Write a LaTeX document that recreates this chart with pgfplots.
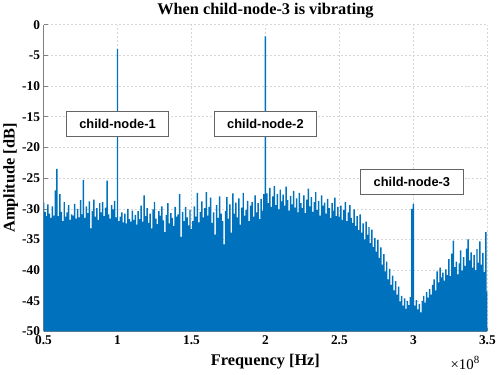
\documentclass[border=0pt]{standalone}
\usepackage{fontspec}
\setmainfont{Liberation Serif}
\setsansfont{Liberation Sans}
\usepackage{pgfplots}
\pgfplotsset{compat=1.18}
\definecolor{mblue}{RGB}{0,114,189}
\definecolor{gridc}{RGB}{215,215,215}
\definecolor{axc}{RGB}{128,128,128}
\definecolor{boxc}{RGB}{100,100,100}
\begin{document}
\begin{tikzpicture}
\path (0,0) rectangle (499bp,368bp);
\begin{axis}[
  at={(43bp,43bp)}, anchor=south west,
  scale only axis, width=447bp, height=309bp,
  xmin=0.5, xmax=3.5, ymin=-50, ymax=0,
  xtick={0.5,1,1.5,2,2.5,3,3.5},
  xticklabels={\textbf{0.5},\textbf{1},\textbf{1.5},\textbf{2},\textbf{2.5},\textbf{3},\textbf{3.5}},
  ytick={-50,-45,-40,-35,-30,-25,-20,-15,-10,-5,0},
  yticklabels={\textbf{-50},\textbf{-45},\textbf{-40},\textbf{-35},\textbf{-30},\textbf{-25},\textbf{-20},\textbf{-15},\textbf{-10},\textbf{-5},\textbf{0}},
  axis lines*=left,
  axis line style={axc, line width=0.6bp},
  tick style={axc, line width=0.5bp},
  major tick length=4bp, tick align=inside,
  grid=major, grid style={gridc, dash pattern=on 2bp off 2bp, line width=0.5bp},
  xticklabel style={font=\fontsize{13.5}{15}\selectfont\bfseries, yshift=-1bp},
  yticklabel style={font=\fontsize{13.5}{15}\selectfont\bfseries},
  label style={font=\fontsize{16.5}{18}\selectfont\bfseries},
  xlabel={Frequency [Hz]},
  ylabel={Amplitude [dB]},
  xlabel style={at={(axis description cs:0.5,-0.097)}, anchor=center},
  ylabel style={at={(axis description cs:-0.074,0.5)}, anchor=center},
  title={When child-node-3 is vibrating},
  title style={font=\fontsize{16.5}{18}\selectfont\bfseries, at={(axis description cs:0.5,1.026)}, anchor=center},
  clip=true,
]
\addplot[const plot mark mid, fill=mblue, draw=none] coordinates {
(0.50,-50)
(0.50,-29.0) (0.51,-30.5) (0.52,-31.2) (0.53,-29.3) (0.54,-30.8) (0.55,-31.5) (0.56,-29.6) (0.57,-31.1) (0.58,-27.0) (0.59,-23.5)
(0.60,-31.2) (0.61,-27.6) (0.62,-30.5) (0.63,-32.0) (0.64,-28.9) (0.65,-31.3) (0.66,-30.6) (0.67,-29.4) (0.68,-31.8) (0.69,-30.9)
(0.70,-31.1) (0.71,-29.2) (0.72,-31.6) (0.73,-30.0) (0.74,-31.4) (0.75,-28.6) (0.76,-30.9) (0.77,-25.3) (0.78,-31.5) (0.79,-29.6)
(0.80,-30.7) (0.81,-28.8) (0.82,-33.2) (0.83,-30.4) (0.84,-28.5) (0.85,-31.3) (0.86,-29.9) (0.87,-31.8) (0.88,-29.1) (0.89,-30.6)
(0.90,-28.9) (0.91,-31.2) (0.92,-29.8) (0.93,-25.4) (0.94,-30.9) (0.95,-31.6) (0.96,-29.4) (0.97,-30.1) (0.98,-28.7) (0.99,-31.4)
(1.00,-4.0) (1.01,-32.0) (1.02,-31.3) (1.03,-30.6) (1.04,-32.2) (1.05,-30.8) (1.06,-32.4) (1.07,-30.0) (1.08,-31.7) (1.09,-32.1)
(1.10,-30.3) (1.11,-31.8) (1.12,-31.0) (1.13,-32.6) (1.14,-30.4) (1.15,-31.7) (1.16,-29.5) (1.17,-32.1) (1.18,-27.8) (1.19,-31.2)
(1.20,-29.9) (1.21,-32.3) (1.22,-30.8) (1.23,-33.2) (1.24,-30.1) (1.25,-28.9) (1.26,-31.6) (1.27,-32.5) (1.28,-30.4) (1.29,-31.1)
(1.30,-29.6) (1.31,-31.9) (1.32,-33.8) (1.33,-31.0) (1.34,-29.1) (1.35,-32.4) (1.36,-30.7) (1.37,-31.5) (1.38,-32.8) (1.39,-29.7)
(1.40,-31.3) (1.41,-30.9) (1.42,-27.6) (1.43,-34.6) (1.44,-30.5) (1.45,-32.0) (1.46,-29.7) (1.47,-31.4) (1.48,-32.7) (1.49,-30.2)
(1.50,-33.3) (1.51,-32.0) (1.52,-29.6) (1.53,-31.3) (1.54,-27.4) (1.55,-32.2) (1.56,-30.5) (1.57,-28.8) (1.58,-31.4) (1.59,-29.9)
(1.60,-27.3) (1.61,-31.1) (1.62,-29.7) (1.63,-28.2) (1.64,-32.3) (1.65,-30.6) (1.66,-34.2) (1.67,-29.4) (1.68,-31.5) (1.69,-28.0)
(1.70,-30.8) (1.71,-32.0) (1.72,-35.8) (1.73,-30.4) (1.74,-28.1) (1.75,-31.6) (1.76,-29.3) (1.77,-33.9) (1.78,-27.5) (1.79,-30.8)
(1.80,-29.0) (1.81,-31.4) (1.82,-28.3) (1.83,-32.6) (1.84,-29.8) (1.85,-27.4) (1.86,-31.1) (1.87,-30.2) (1.88,-28.7) (1.89,-32.0)
(1.90,-29.5) (1.91,-28.9) (1.92,-31.3) (1.93,-27.8) (1.94,-30.6) (1.95,-29.1) (1.96,-31.7) (1.97,-28.4) (1.98,-30.3) (1.99,-27.6)
(2.00,-1.9) (2.01,-27.5) (2.02,-29.1) (2.03,-26.6) (2.04,-29.7) (2.05,-28.0) (2.06,-26.3) (2.07,-29.4) (2.08,-27.6) (2.09,-30.1)
(2.10,-26.9) (2.11,-28.8) (2.12,-27.7) (2.13,-29.5) (2.14,-26.4) (2.15,-28.6) (2.16,-30.3) (2.17,-27.9) (2.18,-29.3) (2.19,-27.1)
(2.20,-29.8) (2.21,-28.3) (2.22,-30.6) (2.23,-27.4) (2.24,-29.1) (2.25,-29.9) (2.26,-27.8) (2.27,-30.7) (2.28,-28.5) (2.29,-26.7)
(2.30,-29.6) (2.31,-28.1) (2.32,-30.5) (2.33,-28.9) (2.34,-27.3) (2.35,-30.2) (2.36,-28.7) (2.37,-31.1) (2.38,-27.8) (2.39,-29.5)
(2.40,-29.0) (2.41,-30.8) (2.42,-28.4) (2.43,-29.9) (2.44,-31.5) (2.45,-29.1) (2.46,-30.3) (2.47,-28.2) (2.48,-31.2) (2.49,-29.7)
(2.50,-31.3) (2.51,-29.5) (2.52,-31.8) (2.53,-30.2) (2.54,-28.9) (2.55,-32.0) (2.56,-30.6) (2.57,-29.4) (2.58,-31.5) (2.59,-32.3)
(2.60,-30.1) (2.61,-32.8) (2.62,-31.2) (2.63,-33.5) (2.64,-30.9) (2.65,-33.9) (2.66,-32.4) (2.67,-35.0) (2.68,-32.1) (2.69,-34.2)
(2.70,-33.0) (2.71,-35.6) (2.72,-33.4) (2.73,-36.2) (2.74,-34.8) (2.75,-37.0) (2.76,-35.1) (2.77,-38.0) (2.78,-36.3) (2.79,-39.1)
(2.80,-37.4) (2.81,-40.2) (2.82,-38.6) (2.83,-41.5) (2.84,-39.8) (2.85,-42.4) (2.86,-40.9) (2.87,-43.3) (2.88,-41.8) (2.89,-44.0)
(2.90,-42.7) (2.91,-45.1) (2.92,-44.2) (2.93,-45.8) (2.94,-44.6) (2.95,-46.3) (2.96,-45.0) (2.97,-45.7) (2.98,-44.4) (2.99,-30.0)
(3.00,-29.2) (3.01,-45.8) (3.02,-44.9) (3.03,-46.4) (3.04,-45.5) (3.05,-46.9) (3.06,-45.0) (3.07,-44.2) (3.08,-45.3) (3.09,-43.6)
(3.10,-44.5) (3.11,-43.1) (3.12,-44.0) (3.13,-42.4) (3.14,-41.5) (3.15,-43.3) (3.16,-40.2) (3.17,-42.0) (3.18,-39.6) (3.19,-41.2)
(3.20,-40.4) (3.21,-41.7) (3.22,-39.9) (3.23,-40.8) (3.24,-38.2) (3.25,-41.0) (3.26,-37.3) (3.27,-35.2) (3.28,-39.5) (3.29,-38.6)
(3.30,-40.7) (3.31,-38.9) (3.32,-36.8) (3.33,-40.1) (3.34,-37.9) (3.35,-39.3) (3.36,-36.5) (3.37,-35.0) (3.38,-38.4) (3.39,-37.1)
(3.40,-39.6) (3.41,-37.5) (3.42,-40.0) (3.43,-36.6) (3.44,-38.8) (3.45,-35.3) (3.46,-39.1) (3.47,-37.2) (3.48,-40.3) (3.49,-33.8)
(3.50,-43.5) (3.51,-50)
};
\node[draw=boxc, fill=white, line width=0.6bp, font=\sffamily\bfseries\fontsize{13}{15}\selectfont, minimum width=103bp, minimum height=25bp, inner sep=0pt] at (axis cs:1.0,-16.2) {child-node-1};
\node[draw=boxc, fill=white, line width=0.6bp, font=\sffamily\bfseries\fontsize{13}{15}\selectfont, minimum width=103bp, minimum height=25bp, inner sep=0pt] at (axis cs:2.0,-16.2) {child-node-2};
\node[draw=boxc, fill=white, line width=0.6bp, font=\sffamily\bfseries\fontsize{13}{15}\selectfont, minimum width=103bp, minimum height=25bp, inner sep=0pt] at (axis cs:2.99,-25.65) {child-node-3};
\end{axis}
\node[anchor=base east, font=\fontsize{15}{17}\selectfont, inner sep=0pt] at (482bp,5bp) {×10\raisebox{6bp}{\fontsize{11}{12}\selectfont 8}};
\end{tikzpicture}
\end{document}
